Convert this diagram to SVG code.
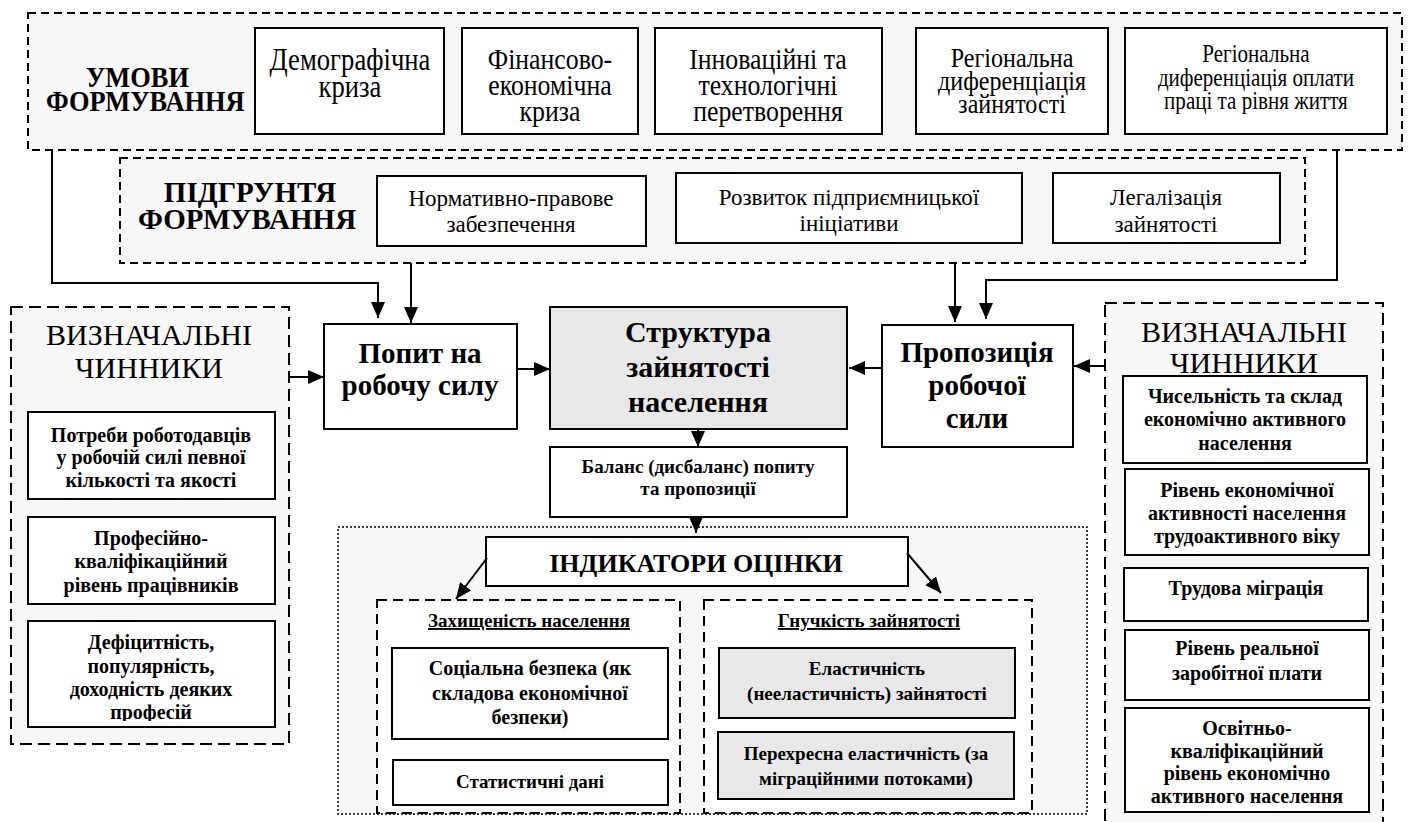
<svg xmlns="http://www.w3.org/2000/svg" width="1410" height="822" viewBox="0 0 1410 822" font-family="Liberation Serif, DejaVu Serif, serif">
<style>
.t{fill:#000;text-anchor:middle}
.b{font-weight:bold}
.box{fill:#fff;stroke:#000;stroke-width:2}
.gbox{fill:#e8e8e8;stroke:#000;stroke-width:2}
.d1{fill:#f7f7f7;stroke:#000;stroke-width:2;stroke-dasharray:8 5}
.d2{fill:#f7f7f7;stroke:#000;stroke-width:2;stroke-dasharray:12 6}
.d3{fill:#fff;stroke:#000;stroke-width:2;stroke-dasharray:10 6}
.dot{fill:#f7f7f7;stroke:#000;stroke-width:1.5;stroke-dasharray:2 2}
.c{stroke:#000;stroke-width:2;fill:none}
</style>
<defs>
<marker id="ah" markerWidth="16" markerHeight="14" refX="16" refY="7" orient="auto" markerUnits="userSpaceOnUse"><path d="M0,0 L16,7 L0,14 z" fill="#000"/></marker>
<clipPath id="clipDef"><rect x="30" y="622" width="242" height="99"/></clipPath>
</defs>

<!-- containers -->
<g id="umovy">
<rect class="d1" x="28" y="13" width="1374" height="137"/>
<g transform="matrix(0.88 0 0 1 16.9 0)">
<text class="t b" font-size="30" x="137" y="87">УМОВИ</text>
<text class="t b" font-size="30" x="146" y="111">ФОРМУВАННЯ</text>
</g>
</g>
<g id="pidgruntya">
<rect class="d1" x="120" y="158" width="1185" height="105"/>
<text class="t b" font-size="29" x="250" y="202">ПІДГРУНТЯ</text>
<text class="t b" font-size="29" x="247" y="229">ФОРМУВАННЯ</text>
</g>
<g id="left-panel">
<rect class="d2" x="11" y="307" width="278" height="437"/>
<text class="t" font-size="30" x="149" y="345">ВИЗНАЧАЛЬНІ</text>
<text class="t" font-size="30" x="149" y="378">ЧИННИКИ</text>
</g>
<g id="right-panel">
<rect class="d2" x="1105" y="303" width="278" height="530"/>
<text class="t" font-size="30" x="1244" y="342">ВИЗНАЧАЛЬНІ</text>
<text class="t" font-size="30" x="1244" y="373">ЧИННИКИ</text>
</g>
<g id="indicators-area">
<rect class="dot" x="338" y="527" width="749" height="287"/>
</g>

<!-- top row -->
<g id="n-demo">
<rect class="box" x="255" y="28" width="189" height="106"/>
<g transform="matrix(0.86 0 0 1 49 0)">
<text class="t" font-size="31" x="350" y="70">Демографічна</text>
<text class="t" font-size="31" x="350" y="97">криза</text>
</g>
</g>
<g id="n-fin">
<rect class="box" x="462" y="28" width="176" height="106"/>
<g transform="matrix(0.86 0 0 1 77 0)">
<text class="t" font-size="30" x="550" y="69">Фінансово-</text>
<text class="t" font-size="30" x="550" y="95">економічна</text>
<text class="t" font-size="30" x="550" y="121">криза</text>
</g>
</g>
<g id="n-innov">
<rect class="box" x="655" y="28" width="227" height="106"/>
<g transform="matrix(0.86 0 0 1 107.5 0)">
<text class="t" font-size="30" x="768" y="69">Інноваційні та</text>
<text class="t" font-size="30" x="768" y="95">технологічні</text>
<text class="t" font-size="30" x="768" y="121">перетворення</text>
</g>
</g>
<g id="n-regzayn">
<rect class="box" x="916" y="28" width="192" height="106"/>
<g transform="matrix(0.86 0 0 1 141.7 0)">
<text class="t" font-size="28" x="1012" y="67">Регіональна</text>
<text class="t" font-size="28" x="1012" y="90">диференціація</text>
<text class="t" font-size="28" x="1012" y="113">зайнятості</text>
</g>
</g>
<g id="n-regopl">
<rect class="box" x="1125" y="28" width="262" height="106"/>
<g transform="matrix(0.86 0 0 1 175.8 0)">
<text class="t" font-size="24.5" x="1256" y="62">Регіональна</text>
<text class="t" font-size="24.5" x="1256" y="86">диференціація оплати</text>
<text class="t" font-size="24.5" x="1256" y="109">праці та рівня життя</text>
</g>
</g>

<!-- second row -->
<g id="n-norm">
<rect class="box" x="377" y="176" width="269" height="70"/>
<text class="t" font-size="23" x="511" y="206">Нормативно-правове</text>
<text class="t" font-size="23" x="511" y="232">забезпечення</text>
</g>
<g id="n-rozv">
<rect class="box" x="676" y="173" width="346" height="70"/>
<text class="t" font-size="23" x="849" y="205">Розвиток підприємницької</text>
<text class="t" font-size="23" x="849" y="231">ініціативи</text>
</g>
<g id="n-leg">
<rect class="box" x="1053" y="173" width="227" height="70"/>
<text class="t" font-size="23" x="1166" y="205">Легалізація</text>
<text class="t" font-size="23" x="1166" y="232">зайнятості</text>
</g>

<!-- central -->
<g id="n-popyt">
<rect class="box" x="324" y="324" width="193" height="105"/>
<text class="t b" font-size="29" x="420" y="363">Попит на</text>
<text class="t b" font-size="29" x="420" y="395">робочу силу</text>
</g>
<g id="n-struct">
<rect class="gbox" x="550" y="307" width="297" height="122"/>
<text class="t b" font-size="30" x="698" y="342">Структура</text>
<text class="t b" font-size="30" x="698" y="377">зайнятості</text>
<text class="t b" font-size="30" x="698" y="412">населення</text>
</g>
<g id="n-propoz">
<rect class="box" x="882" y="325" width="191" height="122"/>
<text class="t b" font-size="29" x="977" y="362">Пропозиція</text>
<text class="t b" font-size="29" x="977" y="395">робочої</text>
<text class="t b" font-size="29" x="977" y="428">сили</text>
</g>
<g id="n-balans">
<rect class="box" x="550" y="447" width="297" height="70"/>
<text class="t b" font-size="19" x="698" y="473">Баланс (дисбаланс) попиту</text>
<text class="t b" font-size="19" x="698" y="495">та пропозиції</text>
</g>

<!-- left factors -->
<g id="n-potreby">
<rect class="box" x="28" y="412" width="247" height="87"/>
<text class="t b" font-size="20" x="151" y="442">Потреби роботодавців</text>
<text class="t b" font-size="20" x="151" y="464">у робочій силі певної</text>
<text class="t b" font-size="20" x="151" y="487">кількості та якості</text>
</g>
<g id="n-prof">
<rect class="box" x="28" y="517" width="247" height="87"/>
<text class="t b" font-size="20" x="151" y="545">Професійно-</text>
<text class="t b" font-size="20" x="151" y="568">кваліфікаційний</text>
<text class="t b" font-size="20" x="151" y="592">рівень працівників</text>
</g>
<g id="n-defits">
<rect class="box" x="28" y="621" width="247" height="106"/>
<g clip-path="url(#clipDef)">
<text class="t b" font-size="20" x="151" y="649">Дефіцитність,</text>
<text class="t b" font-size="20" x="151" y="673">популярність,</text>
<text class="t b" font-size="20" x="151" y="696">доходність деяких</text>
<text class="t b" font-size="20" x="151" y="719">професій</text>
</g>
</g>

<!-- right factors -->
<g id="n-chysel">
<rect class="box" x="1123" y="376" width="244" height="87"/>
<text class="t b" font-size="20" x="1245" y="403">Чисельність та склад</text>
<text class="t b" font-size="20" x="1245" y="426">економічно активного</text>
<text class="t b" font-size="20" x="1245" y="450">населення</text>
</g>
<g id="n-riven-ek">
<rect class="box" x="1125" y="469" width="244" height="86"/>
<text class="t b" font-size="20" x="1247" y="497">Рівень економічної</text>
<text class="t b" font-size="20" x="1247" y="520">активності населення</text>
<text class="t b" font-size="20" x="1247" y="543">трудоактивного віку</text>
</g>
<g id="n-migr">
<rect class="box" x="1124" y="568" width="244" height="53"/>
<text class="t b" font-size="20" x="1246" y="595">Трудова міграція</text>
</g>
<g id="n-zarpl">
<rect class="box" x="1125" y="630" width="244" height="70"/>
<text class="t b" font-size="20" x="1247" y="655">Рівень реальної</text>
<text class="t b" font-size="20" x="1247" y="680">заробітної плати</text>
</g>
<g id="n-osvit">
<rect class="box" x="1125" y="708" width="244" height="104"/>
<text class="t b" font-size="20" x="1247" y="735">Освітньо-</text>
<text class="t b" font-size="20" x="1247" y="758">кваліфікаційний</text>
<text class="t b" font-size="20" x="1247" y="780">рівень економічно</text>
<text class="t b" font-size="20" x="1247" y="803">активного населення</text>
</g>

<!-- indicators -->
<g id="n-indyk">
<rect class="box" x="486" y="537" width="422" height="49"/>
<text class="t b" font-size="26" x="696" y="572">ІНДИКАТОРИ ОЦІНКИ</text>
</g>
<g id="n-zahyst">
<rect class="d3" x="377" y="600" width="303" height="213"/>
<text class="t b" font-size="19" x="529" y="627" text-decoration="underline">Захищеність населення</text>
</g>
<g id="n-social">
<rect class="box" x="392" y="648" width="276" height="91"/>
<text class="t b" font-size="20" x="530" y="675">Соціальна безпека (як</text>
<text class="t b" font-size="20" x="530" y="700">складова економічної</text>
<text class="t b" font-size="20" x="530" y="724">безпеки)</text>
</g>
<g id="n-stat">
<rect class="box" x="393" y="760" width="275" height="45"/>
<text class="t b" font-size="19" x="530" y="788">Статистичні дані</text>
</g>
<g id="n-gnuch">
<rect class="d3" x="704" y="600" width="328" height="213"/>
<text class="t b" font-size="19" x="869" y="627" text-decoration="underline">Гнучкість зайнятості</text>
</g>
<g id="n-elast">
<rect class="gbox" x="719" y="648" width="296" height="70"/>
<text class="t b" font-size="19" x="867" y="675">Еластичність</text>
<text class="t b" font-size="19" x="867" y="700">(нееластичність) зайнятості</text>
</g>
<g id="n-perekh">
<rect class="gbox" x="718" y="732" width="296" height="67"/>
<text class="t b" font-size="19" x="866" y="760">Перехресна еластичність (за</text>
<text class="t b" font-size="19" x="866" y="785">міграційними потоками)</text>
</g>

<!-- connectors -->
<g id="connectors">
<path class="c" d="M52,150 V283 H378 V318" marker-end="url(#ah)"/>
<path class="c" d="M411,263 V323" marker-end="url(#ah)"/>
<path class="c" d="M955,263 V322" marker-end="url(#ah)"/>
<path class="c" d="M1337,150 V280 H986 V319" marker-end="url(#ah)"/>
<path class="c" d="M289,377 H324" marker-end="url(#ah)"/>
<path class="c" d="M517,369 H550" marker-end="url(#ah)"/>
<path class="c" d="M882,368 H849" marker-end="url(#ah)"/>
<path class="c" d="M1105,366 H1074" marker-end="url(#ah)"/>
<path class="c" d="M698,429 V447" marker-end="url(#ah)"/>
<path class="c" d="M696,517 V533" marker-end="url(#ah)"/>
<path class="c" d="M487,558 L456,599" marker-end="url(#ah)"/>
<path class="c" d="M907,553 L941,593" marker-end="url(#ah)"/>
</g>
</svg>
